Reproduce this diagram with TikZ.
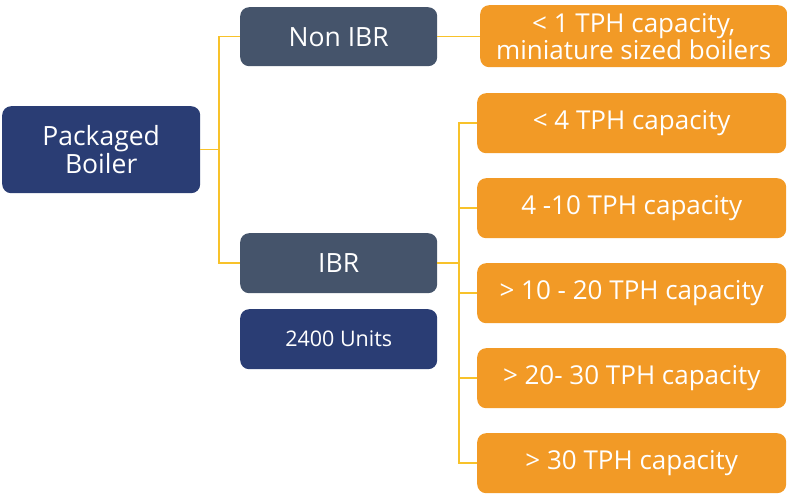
\documentclass[tikz,border=0pt]{standalone}
\usepackage{fontspec}
\setmainfont{Open Sans}
\begin{document}
\begin{tikzpicture}[x=1pt,y=-1pt,
  box/.style={draw=none,rounded corners=9pt,text=white,align=center,inner sep=0pt,anchor=north west},
  navy/.style={box,fill=navyc},
  slate/.style={box,fill=slatec},
  orange/.style={box,fill=orangec,font=\fontsize{26}{25}\selectfont},
  big/.style={font=\fontsize{26.5}{26}\selectfont},
  link/.style={draw=linkc,line width=1.6pt}
]
\definecolor{navyc}{HTML}{2A3D74}
\definecolor{slatec}{HTML}{45546B}
\definecolor{orangec}{HTML}{F29A26}
\definecolor{linkc}{HTML}{F8C22A}
\useasboundingbox (0,0) rectangle (787,494);

% root and branches
\node[navy,big,minimum width=198pt,minimum height=87pt] (root) at (2,106) {Packaged\\Boiler};
\node[slate,big,minimum width=197pt,minimum height=59pt] (non) at (240,7) {Non IBR};
\node[slate,big,minimum width=197pt,minimum height=60pt] (ibr) at (240,233) {IBR};
\node[navy,minimum width=197pt,minimum height=60pt,font=\fontsize{21.5}{21}\selectfont] (units) at (240,309) {2400 Units};

% capacity classes
\node[orange,minimum width=307pt,minimum height=62pt] (c0) at (480,5) {< 1 TPH capacity,\\miniature sized boilers};
\node[orange,minimum width=309pt,minimum height=60pt] (c1) at (477,93) {< 4 TPH capacity};
\node[orange,minimum width=309pt,minimum height=60pt] (c2) at (477,178) {4 -10 TPH capacity};
\node[orange,minimum width=309pt,minimum height=60pt] (c3) at (477,263) {> 10 - 20 TPH capacity};
\node[orange,minimum width=309pt,minimum height=60pt] (c4) at (477,348) {> 20- 30 TPH capacity};
\node[orange,minimum width=309pt,minimum height=60pt] (c5) at (477,433) {> 30 TPH capacity};

% connectors
\coordinate (j1) at (219,0);
\coordinate (j2) at (459,0);
\path[link] (root.east) -- (root.east -| j1);
\path[link] (non.west) -| (j1 |- non.west) |- (ibr.west);
\path[link] (non.east) -- (non.east -| c0.west);
\path[link] (ibr.east) -- (ibr.east -| j2);
\path[link] (c1.west) -| (j2 |- c1.west) |- (c5.west);
\foreach \c in {c2,c3,c4}
  \path[link] (\c.west) -- (\c.west -| j2);
\end{tikzpicture}
\end{document}
